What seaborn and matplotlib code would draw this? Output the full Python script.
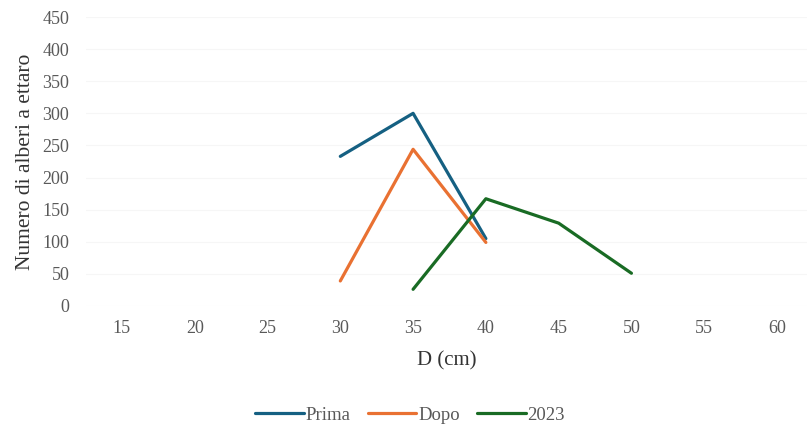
import numpy as np
import pandas as pd
import matplotlib.pyplot as plt
import seaborn as sns

# diameter classes (cm) shown on the x axis
classi = [15, 20, 25, 30, 35, 40, 45, 50, 55, 60]

# trees per hectare, only classes with a value
prima_d = [30, 35, 40]
prima_n = [233, 300, 105]
dopo_d = [30, 35, 40]
dopo_n = [39, 244, 99]
anno_d = [35, 40, 45, 50]
anno_n = [26, 167, 129, 51]

serie = ['Prima', 'Dopo', '2023']
colori = ['#156082', '#E97132', '#196B24']

df = pd.concat([
    pd.DataFrame({'D': prima_d, 'N': prima_n, 'serie': 'Prima'}),
    pd.DataFrame({'D': dopo_d, 'N': dopo_n, 'serie': 'Dopo'}),
    pd.DataFrame({'D': anno_d, 'N': anno_n, 'serie': '2023'}),
])

sns.set_style('white')
plt.rcParams['font.family'] = ['Liberation Serif', 'DejaVu Serif']

fig = plt.figure(figsize=(8.07, 4.28), dpi=100)
ax = fig.add_axes([86 / 807, 1 - 306 / 428, (807 - 86) / 807, (306 - 17) / 428])

sns.lineplot(data=df, x='D', y='N', hue='serie', hue_order=serie,
             palette=colori, linewidth=2.3, ax=ax, legend=False)

ax.set_xlim(12.53, 62.06)
ax.set_ylim(0, 450)
ax.set_xticks(classi)
ax.set_xticklabels([str(c) for c in classi])
ax.set_yticks(np.arange(0, 451, 50))
ax.grid(axis='y', color='#f6f6f6', linewidth=0.8)
ax.set_axisbelow(True)
for s in ax.spines.values():
    s.set_visible(False)
ax.tick_params(axis='both', length=0, labelsize=13, labelcolor='#595959')
ax.tick_params(axis='x', pad=10)
ax.tick_params(axis='y', pad=12)

ax.set_xlabel('D (cm)', fontsize=15, color='#333333', labelpad=10)
ax.set_ylabel('Numero di alberi a ettaro', fontsize=15.5, color='#333333', labelpad=5)

handles = [plt.Line2D([], [], color=c, linewidth=2.3) for c in colori]
fig.legend(handles, serie, loc='center', bbox_to_anchor=(410 / 807, 1 - 415 / 428),
           ncol=3, frameon=False, fontsize=13.5, labelcolor='#595959',
           handlelength=2.6, handletextpad=0.1, columnspacing=0.9)

fig.savefig('out.png', dpi=100)
